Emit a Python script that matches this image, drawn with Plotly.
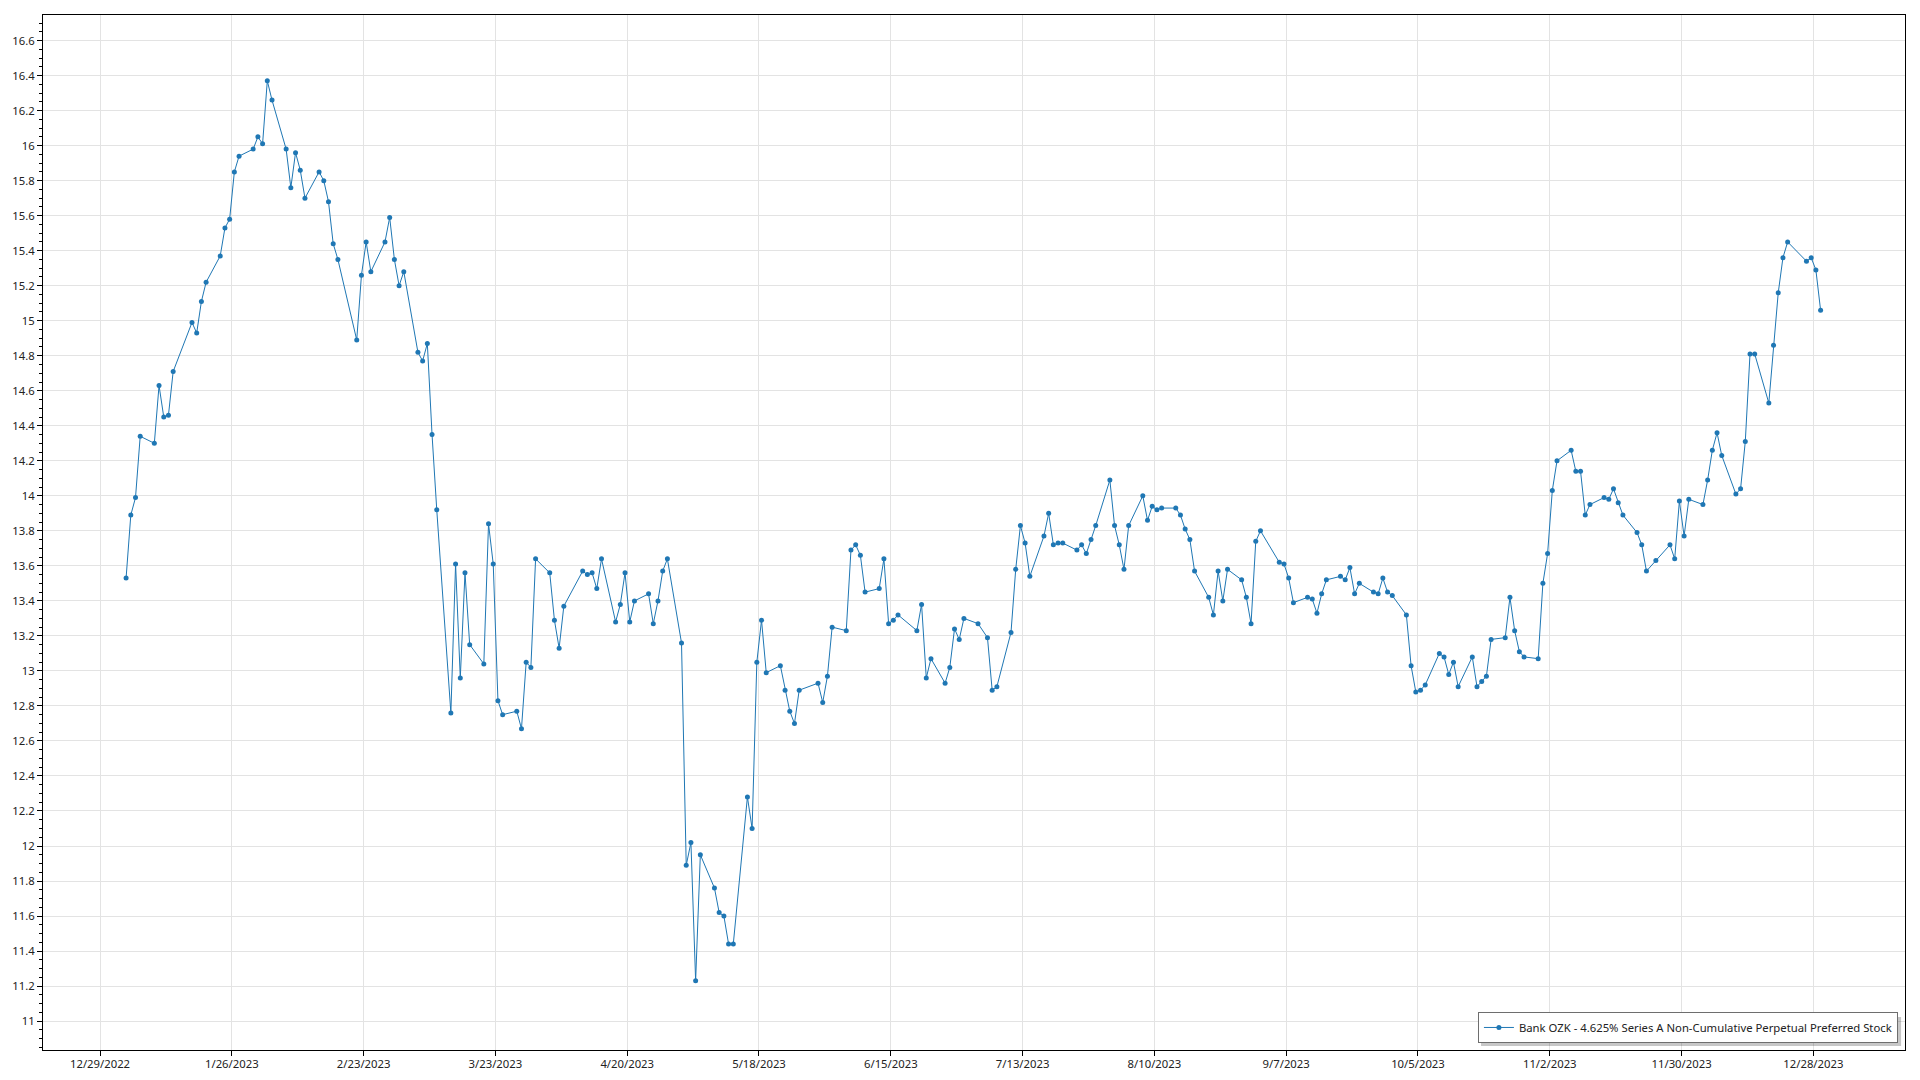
import pandas as pd
import plotly.graph_objects as go

series_name = "Bank OZK - 4.625% Series A Non-Cumulative Perpetual Preferred Stock"

dates = [
    "2023-01-03", "2023-01-04", "2023-01-05", "2023-01-06", "2023-01-09", "2023-01-10", "2023-01-11", "2023-01-12",
    "2023-01-13", "2023-01-17", "2023-01-18", "2023-01-19", "2023-01-20", "2023-01-23", "2023-01-24", "2023-01-25",
    "2023-01-26", "2023-01-27", "2023-01-30", "2023-01-31", "2023-02-01", "2023-02-02", "2023-02-03", "2023-02-06",
    "2023-02-07", "2023-02-08", "2023-02-09", "2023-02-10", "2023-02-13", "2023-02-14", "2023-02-15", "2023-02-16",
    "2023-02-17", "2023-02-21", "2023-02-22", "2023-02-23", "2023-02-24", "2023-02-27", "2023-02-28", "2023-03-01",
    "2023-03-02", "2023-03-03", "2023-03-06", "2023-03-07", "2023-03-08", "2023-03-09", "2023-03-10", "2023-03-13",
    "2023-03-14", "2023-03-15", "2023-03-16", "2023-03-17", "2023-03-20", "2023-03-21", "2023-03-22", "2023-03-23",
    "2023-03-24", "2023-03-27", "2023-03-28", "2023-03-29", "2023-03-30", "2023-03-31", "2023-04-03", "2023-04-04",
    "2023-04-05", "2023-04-06", "2023-04-10", "2023-04-11", "2023-04-12", "2023-04-13", "2023-04-14", "2023-04-17",
    "2023-04-18", "2023-04-19", "2023-04-20", "2023-04-21", "2023-04-24", "2023-04-25", "2023-04-26", "2023-04-27",
    "2023-04-28", "2023-05-01", "2023-05-02", "2023-05-03", "2023-05-04", "2023-05-05", "2023-05-08", "2023-05-09",
    "2023-05-10", "2023-05-11", "2023-05-12", "2023-05-15", "2023-05-16", "2023-05-17", "2023-05-18", "2023-05-19",
    "2023-05-22", "2023-05-23", "2023-05-24", "2023-05-25", "2023-05-26", "2023-05-30", "2023-05-31", "2023-06-01",
    "2023-06-02", "2023-06-05", "2023-06-06", "2023-06-07", "2023-06-08", "2023-06-09", "2023-06-12", "2023-06-13",
    "2023-06-14", "2023-06-15", "2023-06-16", "2023-06-20", "2023-06-21", "2023-06-22", "2023-06-23", "2023-06-26",
    "2023-06-27", "2023-06-28", "2023-06-29", "2023-06-30", "2023-07-03", "2023-07-05", "2023-07-06", "2023-07-07",
    "2023-07-10", "2023-07-11", "2023-07-12", "2023-07-13", "2023-07-14", "2023-07-17", "2023-07-18", "2023-07-19",
    "2023-07-20", "2023-07-21", "2023-07-24", "2023-07-25", "2023-07-26", "2023-07-27", "2023-07-28", "2023-07-31",
    "2023-08-01", "2023-08-02", "2023-08-03", "2023-08-04", "2023-08-07", "2023-08-08", "2023-08-09", "2023-08-10",
    "2023-08-11", "2023-08-14", "2023-08-15", "2023-08-16", "2023-08-17", "2023-08-18", "2023-08-21", "2023-08-22",
    "2023-08-23", "2023-08-24", "2023-08-25", "2023-08-28", "2023-08-29", "2023-08-30", "2023-08-31", "2023-09-01",
    "2023-09-05", "2023-09-06", "2023-09-07", "2023-09-08", "2023-09-11", "2023-09-12", "2023-09-13", "2023-09-14",
    "2023-09-15", "2023-09-18", "2023-09-19", "2023-09-20", "2023-09-21", "2023-09-22", "2023-09-25", "2023-09-26",
    "2023-09-27", "2023-09-28", "2023-09-29", "2023-10-02", "2023-10-03", "2023-10-04", "2023-10-05", "2023-10-06",
    "2023-10-09", "2023-10-10", "2023-10-11", "2023-10-12", "2023-10-13", "2023-10-16", "2023-10-17", "2023-10-18",
    "2023-10-19", "2023-10-20", "2023-10-23", "2023-10-24", "2023-10-25", "2023-10-26", "2023-10-27", "2023-10-30",
    "2023-10-31", "2023-11-01", "2023-11-02", "2023-11-03", "2023-11-06", "2023-11-07", "2023-11-08", "2023-11-09",
    "2023-11-10", "2023-11-13", "2023-11-14", "2023-11-15", "2023-11-16", "2023-11-17", "2023-11-20", "2023-11-21",
    "2023-11-22", "2023-11-24", "2023-11-27", "2023-11-28", "2023-11-29", "2023-11-30", "2023-12-01", "2023-12-04",
    "2023-12-05", "2023-12-06", "2023-12-07", "2023-12-08", "2023-12-11", "2023-12-12", "2023-12-13", "2023-12-14",
    "2023-12-15", "2023-12-18", "2023-12-19", "2023-12-20", "2023-12-21", "2023-12-22", "2023-12-26", "2023-12-27",
    "2023-12-28", "2023-12-29",
]

prices = [
    13.53, 13.89, 13.99, 14.34, 14.30, 14.63, 14.45, 14.46,
    14.71, 14.99, 14.93, 15.11, 15.22, 15.37, 15.53, 15.58,
    15.85, 15.94, 15.98, 16.05, 16.01, 16.37, 16.26, 15.98,
    15.76, 15.96, 15.86, 15.70, 15.85, 15.80, 15.68, 15.44,
    15.35, 14.89, 15.26, 15.45, 15.28, 15.45, 15.59, 15.35,
    15.20, 15.28, 14.82, 14.77, 14.87, 14.35, 13.92, 12.76,
    13.61, 12.96, 13.56, 13.15, 13.04, 13.84, 13.61, 12.83,
    12.75, 12.77, 12.67, 13.05, 13.02, 13.64, 13.56, 13.29,
    13.13, 13.37, 13.57, 13.55, 13.56, 13.47, 13.64, 13.28,
    13.38, 13.56, 13.28, 13.40, 13.44, 13.27, 13.40, 13.57,
    13.64, 13.16, 11.89, 12.02, 11.23, 11.95, 11.76, 11.62,
    11.60, 11.44, 11.44, 12.28, 12.10, 13.05, 13.29, 12.99,
    13.03, 12.89, 12.77, 12.70, 12.89, 12.93, 12.82, 12.97,
    13.25, 13.23, 13.69, 13.72, 13.66, 13.45, 13.47, 13.64,
    13.27, 13.29, 13.32, 13.23, 13.38, 12.96, 13.07, 12.93,
    13.02, 13.24, 13.18, 13.30, 13.27, 13.19, 12.89, 12.91,
    13.22, 13.58, 13.83, 13.73, 13.54, 13.77, 13.90, 13.72,
    13.73, 13.73, 13.69, 13.72, 13.67, 13.75, 13.83, 14.09,
    13.83, 13.72, 13.58, 13.83, 14.00, 13.86, 13.94, 13.92,
    13.93, 13.93, 13.89, 13.81, 13.75, 13.57, 13.42, 13.32,
    13.57, 13.40, 13.58, 13.52, 13.42, 13.27, 13.74, 13.80,
    13.62, 13.61, 13.53, 13.39, 13.42, 13.41, 13.33, 13.44,
    13.52, 13.54, 13.52, 13.59, 13.44, 13.50, 13.45, 13.44,
    13.53, 13.45, 13.43, 13.32, 13.03, 12.88, 12.89, 12.92,
    13.10, 13.08, 12.98, 13.05, 12.91, 13.08, 12.91, 12.94,
    12.97, 13.18, 13.19, 13.42, 13.23, 13.11, 13.08, 13.07,
    13.50, 13.67, 14.03, 14.20, 14.26, 14.14, 14.14, 13.89,
    13.95, 13.99, 13.98, 14.04, 13.96, 13.89, 13.79, 13.72,
    13.57, 13.63, 13.72, 13.64, 13.97, 13.77, 13.98, 13.95,
    14.09, 14.26, 14.36, 14.23, 14.01, 14.04, 14.31, 14.81,
    14.81, 14.53, 14.86, 15.16, 15.36, 15.45, 15.34, 15.36,
    15.29, 15.06,
]

x_tick_labels = [
    "12/29/2022", "1/26/2023", "2/23/2023", "3/23/2023", "4/20/2023", "5/18/2023", "6/15/2023",
    "7/13/2023", "8/10/2023", "9/7/2023", "10/5/2023", "11/2/2023", "11/30/2023", "12/28/2023",
]

LINE_COLOR = "#1f77b4"
GRID = "#e3e3e3"
FONT = "Segoe UI, Noto Sans, Open Sans, sans-serif"

x_vals = pd.to_datetime(dates) + pd.Timedelta(hours=13)
tick_vals = pd.to_datetime(x_tick_labels, format="%m/%d/%Y")

fig = go.Figure()
fig.add_trace(go.Scatter(
    x=x_vals, y=prices, mode="lines+markers", name=series_name,
    line=dict(color=LINE_COLOR, width=1),
    marker=dict(color=LINE_COLOR, size=5),
    showlegend=True,
))

# soft drop shadow behind the legend box
fig.add_shape(
    type="rect", xref="paper", yref="paper",
    x0=0.7723, x1=0.9979, y0=0.0039, y1=0.0319,
    fillcolor="rgba(0,0,0,0.22)", line=dict(width=0), layer="above",
)

fig.update_layout(
    width=1920, height=1080,
    margin=dict(l=43, r=15, t=15, b=30, autoexpand=False),
    paper_bgcolor="white", plot_bgcolor="white",
    font=dict(family=FONT, size=11.3, color="#222222"),
    showlegend=True,
    legend=dict(
        x=0.9962, y=0.0068, xanchor="right", yanchor="bottom",
        bgcolor="white", bordercolor="#6e6e6e", borderwidth=1,
        font=dict(family=FONT, size=11.3, color="#222222"),
        itemwidth=30,
    ),
    xaxis=dict(
        type="date", automargin=False,
        range=["2022-12-16 21:20", "2024-01-16 11:20"],
        tickmode="array", tickvals=tick_vals, ticktext=x_tick_labels,
        showgrid=True, gridcolor=GRID, gridwidth=1,
        showline=True, linecolor="black", linewidth=1, mirror=True,
        ticks="outside", ticklen=5, tickcolor="black",
        ticklabelstandoff=-2,
        zeroline=False,
    ),
    yaxis=dict(
        automargin=False,
        range=[10.835, 16.746],
        tick0=0, dtick=0.2,
        showgrid=True, gridcolor=GRID, gridwidth=1,
        showline=True, linecolor="black", linewidth=1, mirror=True,
        ticks="outside", ticklen=5, tickcolor="black",
        minor=dict(ticks="outside", ticklen=3, tickcolor="black", dtick=0.05, showgrid=False),
        zeroline=False,
    ),
)

fig.write_html(
    "out.html",
    config={"displayModeBar": False},
    post_script="document.body.style.margin='0';document.body.style.overflow='hidden';",
)
